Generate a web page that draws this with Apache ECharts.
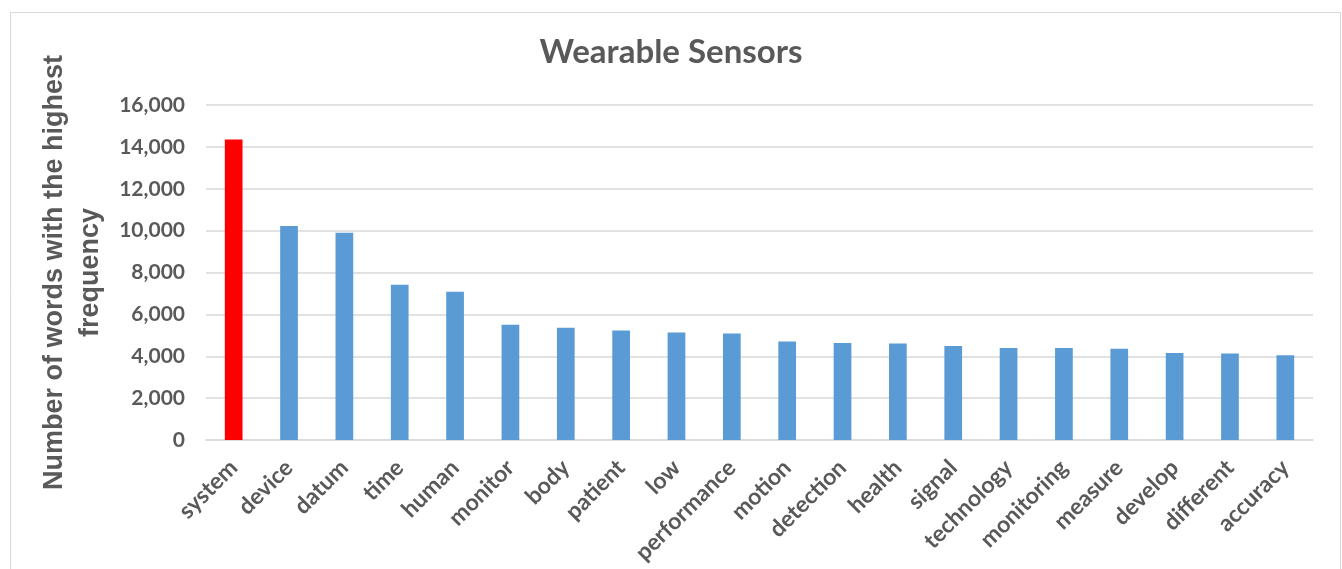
<!DOCTYPE html>
<html>
<head>
<meta charset="utf-8">
<script src="https://cdn.jsdelivr.net/npm/echarts@6/dist/echarts.min.js"></script>
<style>
html,body{margin:0;padding:0;background:#fff;}
#chart{width:1342px;height:569px;}
</style>
</head>
<body>
<div id="chart"></div>
<script>
const categories = ['system','device','datum','time','human','monitor','body','patient','low','performance','motion','detection','health','signal','technology','monitoring','measure','develop','different','accuracy'];
const counts = [14350,10220,9900,7420,7080,5510,5360,5230,5140,5090,4700,4630,4610,4490,4390,4390,4360,4160,4130,4050];
const highlighted = ['system'];
const yTicks = [0,2000,4000,6000,8000,10000,12000,14000,16000];
const titleText = 'Wearable Sensors';
const yName = 'Number of words with the highest\nfrequency';

const chart = echarts.init(document.getElementById('chart'));
const textColor = '#595959';
const narrow = 'Lato, "Liberation Sans", sans-serif';
chart.setOption({
  animation: false,
  backgroundColor: '#ffffff',
  graphic: [{
    type: 'rect', left: 8, top: 10, silent: true,
    shape: { width: 1330, height: 600 },
    style: { fill: 'none', stroke: '#d9d9d9', lineWidth: 1 }
  }],
  title: {
    text: titleText, left: 'center', top: 31,
    textStyle: { fontFamily: narrow, fontWeight: 'bold', fontSize: 33, color: textColor }
  },
  grid: { left: 206, right: 29, top: 105, bottom: 129, containLabel: false, outerBoundsMode: 'none' },
  xAxis: {
    type: 'category', data: categories,
    axisTick: { show: false },
    axisLine: { lineStyle: { color: '#d9d9d9', width: 1.5 } },
    axisLabel: {
      rotate: 45, margin: 24, interval: 0,
      fontFamily: narrow, fontWeight: 'bold', fontSize: 23, color: textColor
    }
  },
  yAxis: {
    type: 'value', min: yTicks[0], max: yTicks[yTicks.length - 1], interval: yTicks[1] - yTicks[0],
    name: yName, nameLocation: 'middle', nameGap: 97, nameRotate: 90,
    nameTextStyle: { fontFamily: 'Liberation Sans', fontWeight: 'bold', fontSize: 27, color: textColor, lineHeight: 36 },
    axisLine: { show: false }, axisTick: { show: false },
    splitLine: { lineStyle: { color: '#d9d9d9', width: 1.5 } },
    axisLabel: {
      margin: 21, fontFamily: narrow, fontWeight: 'bold', fontSize: 21, color: textColor,
      formatter: v => v.toLocaleString('en-US')
    }
  },
  series: [{
    type: 'bar', barWidth: '32%',
    data: counts.map((v, i) => ({
      value: v,
      itemStyle: { color: highlighted.includes(categories[i]) ? '#ff0000' : '#5b9bd5' }
    }))
  }]
});
</script>
</body>
</html>
